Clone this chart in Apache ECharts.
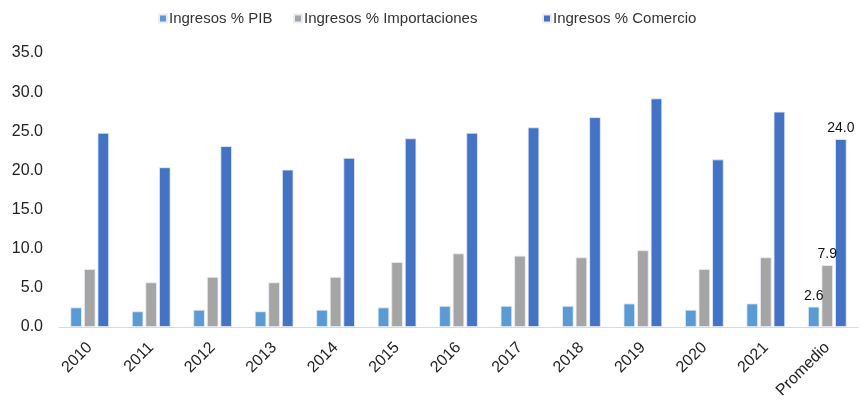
<!DOCTYPE html>
<html>
<head>
<meta charset="utf-8">
<script src="https://cdn.jsdelivr.net/npm/echarts@6/dist/echarts.min.js"></script>
<style>
  html, body { margin: 0; padding: 0; background: #fff; }
  #chart { width: 860px; height: 407px; }
</style>
</head>
<body>
<div id="chart"></div>
<script>
// Categories (years plus the period average)
const categories = ['2010', '2011', '2012', '2013', '2014', '2015', '2016', '2017', '2018', '2019', '2020', '2021', 'Promedio'];

// Revenue ratios, in percent
const ingresosPIB = [2.5, 2.0, 2.2, 2.0, 2.2, 2.5, 2.7, 2.7, 2.7, 3.0, 2.2, 3.0, 2.6];
const ingresosImportaciones = [7.4, 5.7, 6.4, 5.7, 6.4, 8.3, 9.4, 9.1, 8.9, 9.8, 7.4, 8.9, 7.9];
const ingresosComercio = [24.8, 20.4, 23.1, 20.1, 21.6, 24.1, 24.8, 25.5, 26.8, 29.2, 21.4, 27.5, 24.0];

// Y axis range
const yMin = 0;
const yMax = 35;
const yStep = 5;

const seriesNames = ['Ingresos % PIB', 'Ingresos % Importaciones', 'Ingresos % Comercio'];
const seriesColors = ['#5B9BD5', '#A5A5A5', '#4472C4'];

const FONT = 'Liberation Sans, Arial, sans-serif';

// Only the average column carries value labels
function withAverageLabel(values) {
  const last = values.length - 1;
  return values.map((v, i) => i === last
    ? { value: v, label: { show: true, position: 'top', distance: 4, formatter: (p) => p.value.toFixed(1), color: '#111', fontSize: 14, fontFamily: FONT } }
    : v);
}

const chart = echarts.init(document.getElementById('chart'), null, { renderer: 'canvas' });

const legendLefts = [153, 288, 537];

chart.setOption({
  animation: false,
  backgroundColor: '#fff',
  textStyle: { fontFamily: FONT },
  legend: seriesNames.map((name, i) => ({
    data: [name],
    top: 6,
    left: legendLefts[i],
    itemWidth: 8,
    itemHeight: 8,
    itemGap: 0,
    icon: 'rect',
    textStyle: { fontSize: 15, color: '#333', fontFamily: FONT, padding: [0, 0, 0, -3] }
  })),
  grid: { left: 59, right: 2, top: 53, bottom: 80, containLabel: false },
  xAxis: {
    type: 'category',
    data: categories,
    axisLine: { lineStyle: { color: '#d9d9d9', width: 1 } },
    axisTick: { show: false },
    axisLabel: { rotate: 45, color: '#222', fontSize: 16, fontFamily: FONT, margin: 18, interval: 0 }
  },
  yAxis: {
    type: 'value',
    min: yMin,
    max: yMax,
    interval: yStep,
    splitLine: { show: false },
    axisLine: { show: false },
    axisTick: { show: false },
    axisLabel: { color: '#222', fontSize: 16, fontFamily: FONT, margin: 16, formatter: (v) => v.toFixed(1) }
  },
  series: [ingresosPIB, ingresosImportaciones, ingresosComercio].map((vals, i) => ({
    name: seriesNames[i],
    type: 'bar',
    data: withAverageLabel(vals),
    barWidth: 11.5,
    barGap: '18%',
    itemStyle: { color: seriesColors[i], borderColor: '#e8eef8', borderWidth: 0.8 },
    emphasis: { disabled: true }
  }))
});
</script>
</body>
</html>
